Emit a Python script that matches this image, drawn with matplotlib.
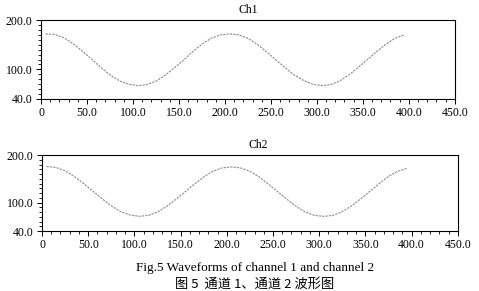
import matplotlib.pyplot as plt
from matplotlib.ticker import MultipleLocator, FixedLocator, FuncFormatter

# sample positions (both channels)
x_pts = [5, 15, 25, 35, 45, 55, 65, 75, 85, 95, 105, 115, 125, 135, 145, 155, 165, 175, 185, 195,
         205, 215, 225, 235, 245, 255, 265, 275, 285, 295, 305, 315, 325, 335, 345, 355, 365, 375, 385, 395]

ch1 = [172, 171, 164, 152, 137, 121, 104, 89, 77, 70, 67, 69, 76, 88, 103, 119, 136, 151, 163, 170,
       172, 170, 163, 151, 136, 120, 104, 89, 78, 70, 67, 69, 77, 89, 104, 120, 136, 151, 163, 170]

ch2 = [176, 174, 167, 155, 140, 124, 108, 93, 81, 74, 71, 73, 80, 92, 107, 123, 139, 154, 166, 173,
       175, 173, 166, 154, 139, 123, 107, 92, 80, 73, 71, 73, 81, 93, 108, 124, 140, 155, 166, 172]

titles = ['Ch1', 'Ch2']
y_ticks = [40, 100, 200]
caption_en = 'Fig.5 Waveforms of channel 1 and channel 2'
caption_cn = '图 5  通道 1、通道 2 波形图'

plt.rcParams['font.family'] = ['Liberation Serif', 'DejaVu Serif']
plt.rcParams['font.size'] = 8

fig = plt.figure(figsize=(4.79, 2.91), dpi=100)
ax1 = fig.add_axes([0.0856, 0.660, 0.864, 0.271])
ax2 = fig.add_axes([0.0877, 0.206, 0.868, 0.261])


def fmt_x(v, pos):
    return '0' if v == 0 else f'{v:.1f}'


for ax, y, title, tx in zip([ax1, ax2], [ch1, ch2], titles, [0.5, 0.52]):
    ax.plot(x_pts, y, color='#8a8a8a', lw=0.8, ls=(0, (2, 1)))
    ax.set_xlim(0, 450)
    ax.set_ylim(40, 200)
    ax.xaxis.set_major_locator(MultipleLocator(50))
    ax.xaxis.set_minor_locator(MultipleLocator(10))
    ax.xaxis.set_major_formatter(FuncFormatter(fmt_x))
    ax.yaxis.set_major_locator(FixedLocator(y_ticks))
    ax.yaxis.set_minor_locator(MultipleLocator(10))
    ax.yaxis.set_major_formatter(FuncFormatter(lambda v, p: f'{v:.1f}'))
    ax.tick_params(which='major', length=3.5, width=0.7, labelsize=8.5, pad=2.5)
    ax.tick_params(which='minor', length=2, width=0.6)
    for s in ax.spines.values():
        s.set_linewidth(0.8)
    ax.set_title(title, fontsize=8.5, pad=5, x=tx)

fig.text(0.532, 0.07, caption_en, ha='center', fontsize=9.5)
fig.text(0.532, 0.012, caption_cn, ha='center', fontsize=9.5,
         family=['Noto Sans CJK SC', 'Liberation Serif'])

fig.savefig('out.png', dpi=100)
